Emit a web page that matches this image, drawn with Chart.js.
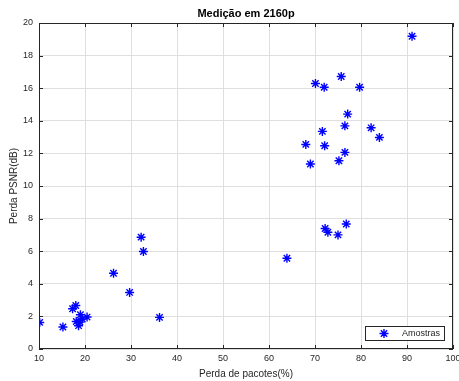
<!DOCTYPE html>
<html>
<head>
<meta charset="utf-8">
<script src="https://cdn.jsdelivr.net/npm/chart.js@4/dist/chart.umd.min.js"></script>
<style>
  html, body { margin: 0; padding: 0; background: #fff; }
  #wrap { width: 459px; height: 381px; }
</style>
</head>
<body>
<div id="wrap"><canvas id="c"></canvas></div>
<script>
// Perda de pacotes (%) vs perda PSNR (dB), leituras do gráfico
const perdaPacotes = [
  91.1, 70.1, 72.0, 75.7, 79.7, 77.1, 76.5, 82.2, 71.6, 84.0, 68.0, 72.1, 76.5, 75.2, 69.0,
  72.2, 72.8, 75.0, 76.8, 63.9,
  32.2, 32.7, 26.2, 29.7, 36.2,
  10.15, 15.2, 17.3, 18.0, 19.0, 18.1, 18.9, 18.6, 19.4, 20.45
]
const perdaPSNR = [
  19.19, 16.29, 16.06, 16.72, 16.06, 14.41, 13.69, 13.57, 13.35, 12.98, 12.55, 12.47, 12.06, 11.55, 11.35,
  7.39, 7.16, 7.0, 7.67, 5.57,
  6.86, 5.98, 4.65, 3.47, 1.94,
  1.63, 1.35, 2.47, 2.67, 2.1, 1.69, 1.65, 1.43, 1.84, 1.96
]
const xTicks = [10, 20, 30, 40, 50, 60, 70, 80, 90, 100]
const yTicks = [0, 2, 4, 6, 8, 10, 12, 14, 16, 18, 20]
const titulo = 'Medição em 2160p'

const axisColor = '#262626'
const fontFamily = '"Liberation Sans", Arial, sans-serif'
const star = { pointStyle: 'star', radius: 4.5, borderWidth: 1.4, rotation: 0 }

// MATLAB-style box with inward ticks on all four sides, title over the axes, legend
const boxPlugin = {
  id: 'box',
  afterDraw(chart) {
    const ctx = chart.ctx
    const a = chart.chartArea
    const xs = chart.scales.x, ys = chart.scales.y
    ctx.save()
    ctx.strokeStyle = axisColor
    ctx.lineWidth = 1
    ctx.strokeRect(a.left + 0.5, a.top + 0.5, a.right - a.left - 1, a.bottom - a.top - 1)
    ctx.beginPath()
    const t = 4
    xTicks.forEach(v => {
      const px = Math.round(xs.getPixelForValue(v)) + 0.5
      ctx.moveTo(px, a.bottom); ctx.lineTo(px, a.bottom - t)
      ctx.moveTo(px, a.top); ctx.lineTo(px, a.top + t)
    })
    yTicks.forEach(v => {
      const py = Math.round(ys.getPixelForValue(v)) + 0.5
      ctx.moveTo(a.left, py); ctx.lineTo(a.left + t, py)
      ctx.moveTo(a.right, py); ctx.lineTo(a.right - t, py)
    })
    ctx.stroke()

    // title centred over the axes
    ctx.fillStyle = '#000'
    ctx.font = 'bold 11px ' + fontFamily
    ctx.textAlign = 'center'
    ctx.textBaseline = 'middle'
    ctx.fillText(titulo, (a.left + a.right) / 2, 14)

    // legend
    const lx = a.right - 88, ly = a.bottom - 23, lw = 79, lh = 14
    ctx.fillStyle = '#fff'
    ctx.fillRect(lx, ly, lw, lh)
    ctx.strokeStyle = axisColor
    ctx.lineWidth = 1
    ctx.strokeRect(lx + 0.5, ly + 0.5, lw, lh)
    const ds = chart.data.datasets[0]
    ctx.strokeStyle = ds.borderColor
    ctx.lineWidth = star.borderWidth
    Chart.helpers.drawPoint(ctx, star, lx + 19, ly + lh / 2 + 0.5)
    ctx.fillStyle = axisColor
    ctx.font = '9px ' + fontFamily
    ctx.textAlign = 'left'
    ctx.fillText(ds.label, lx + 37, ly + lh / 2 + 1)
    ctx.restore()
  }
}

new Chart(document.getElementById('c'), {
  type: 'scatter',
  data: {
    datasets: [{
      label: 'Amostras',
      data: perdaPacotes.map((x, i) => ({ x: x, y: perdaPSNR[i] })),
      pointStyle: 'star',
      pointRadius: star.radius,
      pointBorderWidth: star.borderWidth,
      borderColor: '#0000ff',
      backgroundColor: '#0000ff'
    }]
  },
  options: {
    responsive: true,
    maintainAspectRatio: false,
    animation: false,
    layout: { padding: { left: 0, right: 6, top: 23, bottom: 0 } },
    plugins: {
      legend: { display: false },
      tooltip: { enabled: false },
      title: { display: false }
    },
    scales: {
      x: {
        type: 'linear',
        min: 10,
        max: 100,
        afterBuildTicks: s => { s.ticks = xTicks.map(v => ({ value: v })) },
        afterFit: s => { s.height = 32; s.paddingLeft = 0; s.paddingRight = 0 },
        grid: { color: '#dfdfdf', drawTicks: false, lineWidth: 1 },
        border: { display: false },
        ticks: { color: axisColor, padding: 4, font: { family: fontFamily, size: 9 }, maxRotation: 0 },
        title: {
          display: true,
          text: 'Perda de pacotes(%)',
          color: axisColor,
          font: { family: fontFamily, size: 10 },
          padding: { top: 0, bottom: 1 }
        }
      },
      y: {
        type: 'linear',
        min: 0,
        max: 20,
        afterBuildTicks: s => { s.ticks = yTicks.map(v => ({ value: v })) },
        afterFit: s => { s.width = 39; s.paddingTop = 0; s.paddingBottom = 0 },
        grid: { color: '#dfdfdf', drawTicks: false, lineWidth: 1 },
        border: { display: false },
        ticks: { color: axisColor, padding: 6, font: { family: fontFamily, size: 9 } },
        title: {
          display: true,
          text: 'Perda PSNR(dB)',
          color: axisColor,
          font: { family: fontFamily, size: 10 },
          padding: { top: 8, bottom: 0 }
        }
      }
    }
  },
  plugins: [boxPlugin]
})
</script>
</body>
</html>
